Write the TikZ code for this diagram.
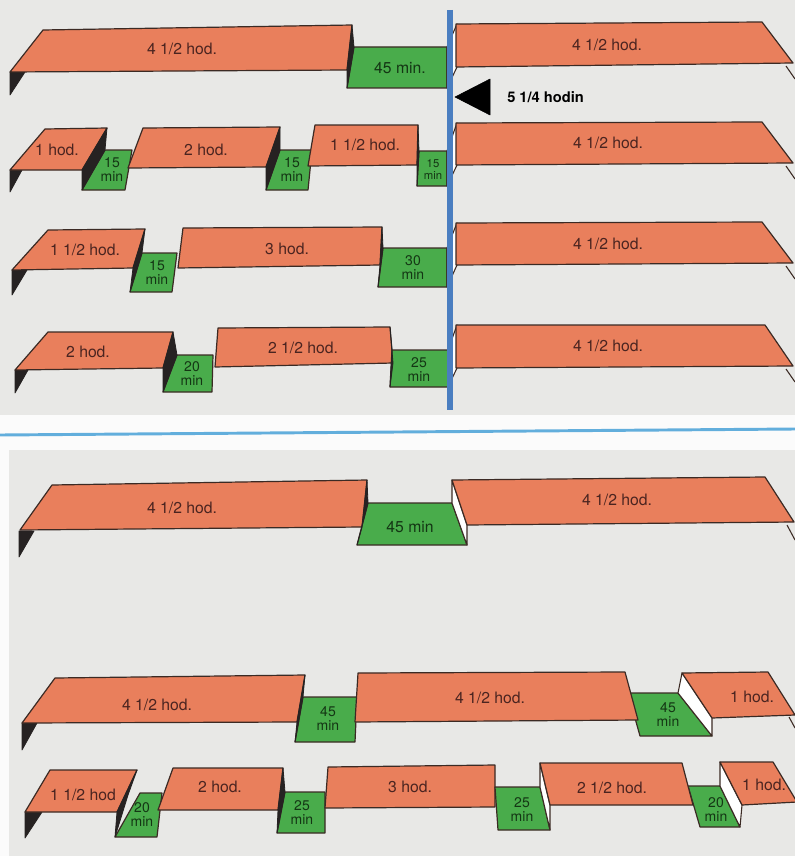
\documentclass[tikz,border=0pt]{standalone}
\usepackage{fontspec}
\setmainfont{TeX Gyre Heros}
\definecolor{paper}{HTML}{E8E8E6}
\definecolor{orng}{HTML}{E97F5C}
\definecolor{grn}{HTML}{49AC4B}
\definecolor{dk}{HTML}{262222}
\definecolor{edgec}{HTML}{3B2A24}
\definecolor{vblue}{HTML}{4A7EC0}
\definecolor{hblue}{HTML}{62AEDC}
\definecolor{otx}{HTML}{4A2420}
\definecolor{gtx}{HTML}{143614}
\tikzset{
 ob/.style={fill=orng, draw=edgec, line width=0.9pt, line join=round},
 gb/.style={fill=grn, draw=edgec, line width=0.9pt, line join=round},
 db/.style={fill=dk, draw=dk, line width=0.6pt, line join=round},
 wb/.style={fill=white, draw=edgec, line width=0.8pt, line join=round},
 ln/.style={draw=edgec, line width=0.8pt},
 ot/.style={font=\fontsize{11.8}{12}\selectfont, text=otx, inner sep=0pt},
 gt/.style={font=\fontsize{10.5}{10.5}\selectfont, text=gtx, align=center, inner sep=0pt},
 gts/.style={font=\fontsize{8.5}{9}\selectfont, text=gtx, align=center, inner sep=0pt}
}
\begin{document}
\begin{tikzpicture}[x=0.75pt,y=-0.75pt]
\useasboundingbox (0,0) rectangle (795,856);
\clip (0,0) rectangle (795,856);
\fill[white!97!gray] (0,0) rectangle (795,856);
\fill[paper] (0,0) rectangle (795,415);
\fill[paper] (9,450) rectangle (795,856);
\draw[hblue, line width=2.2pt] (0,435) -- (795,429);

% ---------- Row 1 ----------
\filldraw[db] (10,72) -- (25,72) -- (10,95) -- cycle;
\filldraw[ob] (10,72) -- (43,30) -- (352,25) -- (347,70) -- cycle;
\node[ot] (r1a) at (182,49) {4 1/2 hod.};
\filldraw[gb] (354,47) -- (447,47) -- (447,88) -- (347,88) -- cycle;
\filldraw[db] (352,25) -- (347,70) -- (347,88) -- (354,47) -- cycle;
\node[ot, text=gtx] (r1g) at (400,68) {45 min.};
\filldraw[wb] (447,47) -- (457,24) -- (457,67) -- (447,88) -- cycle;
\filldraw[ob] (456,24) -- (762,22) -- (793,63) -- (456,67) -- cycle;
\draw[ln] (786,66) -- (795,79);
\node[ot] (r1b) at (607,45) {4 1/2 hod.};

% ---------- Row 2 ----------
\filldraw[db] (10,170) -- (22,170) -- (10,192) -- cycle;
\filldraw[ob] (10,170) -- (45,129) -- (107,128) -- (82,170) -- cycle;
\node[ot] (r2a) at (57,150) {1 hod.};
\filldraw[gb] (105,150) -- (132,150) -- (125,190) -- (82,190) -- cycle;
\filldraw[db] (107,128) -- (82,170) -- (82,190) -- (105,150) -- cycle;
\node[gt] (r2g1) at (112,170) {15\\min};
\filldraw[ob] (128,168) -- (143,128) -- (280,127) -- (266,167) -- cycle;
\node[ot] (r2b) at (206,150) {2 hod.};
\filldraw[gb] (280,150) -- (312,150) -- (308,190) -- (266,190) -- cycle;
\filldraw[db] (280,127) -- (266,167) -- (266,190) -- (280,150) -- cycle;
\node[gt] (r2g2) at (292,170) {15\\min};
\filldraw[ob] (308,166) -- (315,125) -- (418,125) -- (417,165) -- cycle;
\node[ot] (r2c) at (365,145) {1 1/2 hod.};
\filldraw[gb] (419,151) -- (447,151) -- (447,186) -- (417,186) -- cycle;
\filldraw[db] (418,125) -- (417,165) -- (417,186) -- (419,151) -- cycle;
\node[gts] (r2g3) at (433,169) {15\\min};
\filldraw[wb] (447,151) -- (457,123) -- (457,165) -- (447,186) -- cycle;
\filldraw[ob] (456,123) -- (762,122) -- (793,163) -- (456,165) -- cycle;
\draw[ln] (786,166) -- (795,179);
\node[ot] (r2d) at (608,143) {4 1/2 hod.};

% ---------- Row 3 ----------
\filldraw[db] (12,270) -- (27,270) -- (12,295) -- cycle;
\filldraw[ob] (12,270) -- (48,230) -- (145,229) -- (133,268) -- cycle;
\node[ot] (r3a) at (85,250) {1 1/2 hod.};
\filldraw[gb] (142,253) -- (177,253) -- (172,292) -- (130,292) -- cycle;
\filldraw[db] (145,229) -- (133,268) -- (130,292) -- (142,253) -- cycle;
\node[gt] (r3g1) at (157,273) {15\\min};
\filldraw[ob] (178,268) -- (183,228) -- (382,227) -- (380,265) -- cycle;
\node[ot] (r3b) at (287,249) {3 hod.};
\filldraw[gb] (383,248) -- (447,248) -- (447,287) -- (378,287) -- cycle;
\filldraw[db] (382,227) -- (380,265) -- (378,287) -- (383,248) -- cycle;
\node[gt] (r3g2) at (413,268) {30\\min};
\filldraw[wb] (447,248) -- (457,223) -- (457,265) -- (447,287) -- cycle;
\filldraw[ob] (456,223) -- (762,222) -- (793,263) -- (456,265) -- cycle;
\draw[ln] (786,266) -- (795,279);
\node[ot] (r3c) at (608,244) {4 1/2 hod.};

% ---------- Row 4 ----------
\filldraw[db] (15,370) -- (28,370) -- (15,393) -- cycle;
\filldraw[ob] (15,370) -- (48,332) -- (173,332) -- (163,368) -- cycle;
\node[ot] (r4a) at (88,352) {2 hod.};
\filldraw[gb] (177,355) -- (213,355) -- (212,392) -- (163,392) -- cycle;
\filldraw[db] (173,332) -- (163,368) -- (163,392) -- (177,355) -- cycle;
\node[gt] (r4g1) at (192,374) {20\\min};
\filldraw[ob] (215,367) -- (218,328) -- (390,327) -- (393,363) -- cycle;
\node[ot] (r4b) at (303,348) {2 1/2 hod.};
\filldraw[gb] (392,350) -- (448,350) -- (448,387) -- (390,387) -- cycle;
\filldraw[db] (390,327) -- (393,363) -- (390,387) -- (392,350) -- cycle;
\node[gt] (r4g2) at (419,370) {25\\min};
\filldraw[wb] (448,350) -- (457,325) -- (457,368) -- (448,387) -- cycle;
\filldraw[ob] (456,325) -- (765,325) -- (793,366) -- (456,368) -- cycle;
\draw[ln] (786,369) -- (795,382);
\node[ot] (r4c) at (608,346) {4 1/2 hod.};

% ---------- vertical line and arrow ----------
\draw[vblue, line width=3.8pt] (450,10) -- (450,410);
\filldraw[fill=black, draw=black, line join=round] (455,97) -- (490,79) -- (490,115) -- cycle;
\node[font=\fontsize{11}{12}\selectfont\bfseries, anchor=west, inner sep=0pt] (lbl) at (507,97) {5 1/4 hodin};

% ---------- Bottom row 1 ----------
\filldraw[db] (19,531) -- (34,531) -- (19,557) -- cycle;
\filldraw[ob] (20,530) -- (52,485) -- (367,480) -- (362,527) -- cycle;
\node[ot] (b1a) at (182,508) {4 1/2 hod.};
\filldraw[gb] (368,503) -- (452,503) -- (467,545) -- (357,545) -- cycle;
\filldraw[db] (367,480) -- (362,527) -- (357,545) -- (368,503) -- cycle;
\node[ot, text=gtx] (b1g) at (410,527) {45 min};
\filldraw[wb] (452,480) -- (467,525) -- (467,545) -- (452,503) -- cycle;
\filldraw[ob] (452,480) -- (765,477) -- (794,522) -- (467,525) -- cycle;
\draw[ln] (787,525) -- (795,540);
\node[ot] (b1b) at (617,500) {4 1/2 hod.};

% ---------- Bottom row 2 ----------
\filldraw[db] (22,723) -- (37,723) -- (22,750) -- cycle;
\filldraw[ob] (22,723) -- (55,678) -- (305,675) -- (297,722) -- cycle;
\node[ot] (b2a) at (157,705) {4 1/2 hod.};
\filldraw[gb] (303,697) -- (357,697) -- (355,742) -- (295,742) -- cycle;
\filldraw[db] (305,675) -- (297,722) -- (295,742) -- (303,697) -- cycle;
\node[gt] (b2g1) at (328,719) {45\\min};
\filldraw[gb] (628,693) -- (678,693) -- (712,736) -- (640,736) -- cycle;
\filldraw[ob] (355,722) -- (358,673) -- (625,672) -- (638,720) -- cycle;
\node[ot] (b2b) at (490,698) {4 1/2 hod.};
\node[gt] (b2g2) at (668,715) {45\\min};
\filldraw[wb] (682,673) -- (712,718) -- (712,736) -- (678,693) -- cycle;
\filldraw[ob] (682,673) -- (768,672) -- (795,715) -- (712,718) -- cycle;
\draw[ln] (789,717) -- (795,728);
\node[ot] (b2c) at (752,697) {1 hod.};

% ---------- Bottom row 3 ----------
\filldraw[db] (25,812) -- (42,812) -- (25,838) -- cycle;
\filldraw[ob] (25,812) -- (50,770) -- (137,770) -- (117,812) -- cycle;
\node[ot] (b3a) at (83,795) {1 1/2 hod};
\filldraw[gb] (140,793) -- (162,793) -- (157,837) -- (115,837) -- cycle;
\node[gt] (b3g1) at (142,815) {20\\min};
\filldraw[db] (137,770) -- (117,812) -- (115,837) -- (128,795) -- cycle;
\filldraw[ob] (158,810) -- (173,768) -- (283,768) -- (278,810) -- cycle;
\node[ot] (b3b) at (220,787) {2 hod.};
\filldraw[gb] (285,792) -- (325,792) -- (325,833) -- (277,833) -- cycle;
\filldraw[db] (283,768) -- (278,810) -- (277,833) -- (285,792) -- cycle;
\node[gt] (b3g2) at (302,813) {25\\min};
\filldraw[ob] (325,808) -- (328,767) -- (495,765) -- (495,807) -- cycle;
\node[ot] (b3c) at (410,787) {3 hod.};
\filldraw[gb] (495,787) -- (540,787) -- (550,830) -- (498,830) -- cycle;
\node[gt] (b3g3) at (522,810) {25\\min};
\filldraw[wb] (540,763) -- (550,805) -- (550,830) -- (540,787) -- cycle;
\filldraw[gb] (688,786) -- (720,786) -- (740,827) -- (700,827) -- cycle;
\filldraw[ob] (540,763) -- (682,763) -- (693,805) -- (550,805) -- cycle;
\node[ot] (b3d) at (612,788) {2 1/2 hod.};
\node[gt] (b3g4) at (716,810) {20\\min};
\filldraw[wb] (720,762) -- (742,805) -- (740,827) -- (720,786) -- cycle;
\filldraw[ob] (720,762) -- (773,762) -- (797,802) -- (742,805) -- cycle;
\node[ot] (b3e) at (764,785) {1 hod.};
\end{tikzpicture}
\end{document}
